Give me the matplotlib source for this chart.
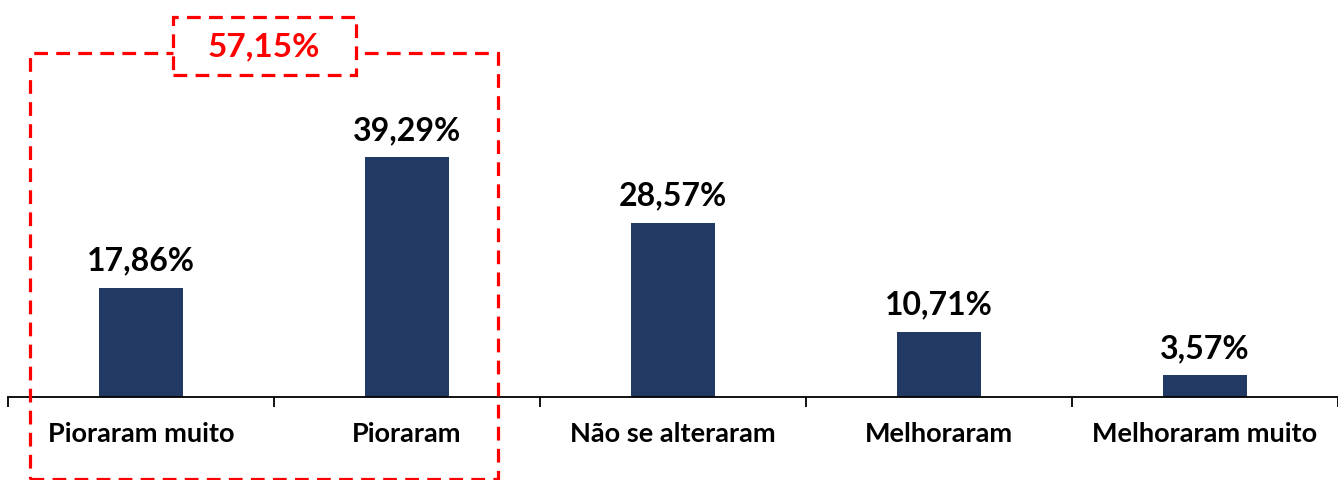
import matplotlib
matplotlib.use('Agg')
import matplotlib.pyplot as plt
from matplotlib.patches import Rectangle

# ── data ────────────────────────────────────────────
categories = ['Pioraram muito', 'Pioraram', 'Não se alteraram',
              'Melhoraram', 'Melhoraram muito']
values = [17.86, 39.29, 28.57, 10.71, 3.57]
group_idx = [0, 1]          # bars summed in the dashed box

BAR = '#213963'
RED = '#ff0000'
FONT = ['Lato', 'DejaVu Sans']

def pct(v):
    return f'{v:.2f}%'.replace('.', ',')

fig = plt.figure(figsize=(13.38, 4.8), dpi=100, facecolor='white')
ax = fig.add_axes([8/1338, (480-397)/480, 1 - 8/1338, 397/480])

x = list(range(len(categories)))
ax.bar(x, values, width=0.315, color=BAR, zorder=2)
ax.set_xlim(-0.5, len(categories) - 0.5)
ax.set_ylim(0, 65)

for xi, v in zip(x, values):
    ax.text(xi, v + 2.0, pct(v), ha='center', va='bottom',
            fontsize=23, fontweight='bold', family=FONT, color='black')

# axes styling
for s in ['top', 'right', 'left']:
    ax.spines[s].set_visible(False)
ax.spines['bottom'].set_linewidth(1.3)
ax.set_yticks([])
ax.set_xticks(x)
ax.set_xticklabels(categories, fontsize=19.5, fontweight='bold', family=FONT)
ax.tick_params(axis='x', which='major', length=0, pad=18)
ax.set_xticks([i - 0.5 for i in range(len(categories) + 1)], minor=True)
ax.tick_params(axis='x', which='minor', length=7, width=1.3, direction='out')

# ── dashed group box ───────────────────────────────
dash = (0, (4.3, 2.6))
lo, hi = min(group_idx), max(group_idx)
gx0, gx1 = lo - 0.417, hi + 0.342
gy0, gy1 = -13.4, 56.3
ax.add_patch(Rectangle((gx0, gy0), gx1 - gx0, gy1 - gy0, fill=False,
                       edgecolor=RED, lw=2.3, ls=dash, clip_on=False, zorder=3))

total = sum(values[i] for i in group_idx)
cx = (gx0 + gx1) / 2
ax.add_patch(Rectangle((cx - 0.344, 52.7), 0.688, 9.5, facecolor='white',
                       edgecolor=RED, lw=2.3, ls=dash, clip_on=False, zorder=4))
ax.text(cx, 57.4, pct(total), ha='center', va='center', color=RED,
        fontsize=24, fontweight='bold', family=FONT, zorder=5)

fig.savefig('out.png', dpi=100, facecolor='white')
